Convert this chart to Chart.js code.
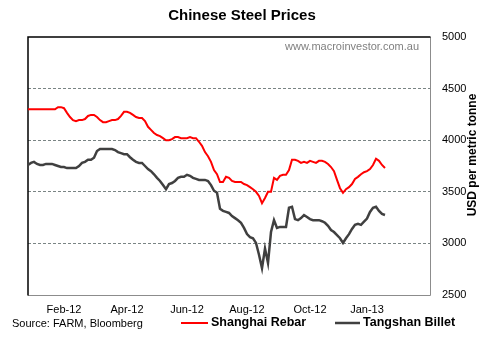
<!DOCTYPE html>
<html>
<head>
<meta charset="utf-8">
<style>
  html, body { margin: 0; padding: 0; background: #fff; }
  #wrap { width: 490px; height: 344px; }
</style>
<script src="https://cdn.jsdelivr.net/npm/chart.js"></script>
</head>
<body>
<div id="wrap"><canvas id="steelChart" width="490" height="344"></canvas></div>
<script>
// Values (USD per metric tonne), roughly one point every few trading days
const rebar = [
  4300, 4300, 4300, 4300, 4300, 4300, 4300, 4300, 4300, 4300,
  4320, 4320, 4310, 4265, 4225, 4195, 4185, 4195, 4195, 4205,
  4235, 4245, 4245, 4225, 4195, 4175, 4175, 4185, 4195, 4195,
  4205, 4235, 4275, 4275, 4265, 4245, 4225, 4215, 4215, 4185,
  4130, 4100, 4070, 4050, 4040, 4020, 4000, 4000, 4010, 4030,
  4030, 4020, 4020, 4020, 4030, 4020, 4020, 3985, 3945, 3885,
  3845, 3790, 3710, 3670, 3595, 3595, 3645, 3635, 3605, 3595,
  3595, 3595, 3575, 3565, 3545, 3525, 3500, 3460, 3390, 3440,
  3500, 3500, 3635, 3615, 3655, 3665, 3665, 3710, 3810, 3810,
  3800, 3780, 3790, 3780, 3800, 3790, 3780, 3800, 3800, 3790,
  3770, 3740, 3700, 3615, 3535, 3490, 3525, 3545, 3575, 3625,
  3645, 3670, 3690, 3700, 3720, 3760, 3820, 3800, 3760, 3730
];
const billet = [
  3760, 3780, 3790, 3770, 3760, 3760, 3770, 3770, 3770, 3760,
  3750, 3740, 3740, 3730, 3730, 3730, 3730, 3750, 3780, 3790,
  3810, 3810, 3830, 3895, 3915, 3915, 3915, 3915, 3915, 3905,
  3885, 3875, 3865, 3865, 3835, 3810, 3790, 3780, 3780, 3750,
  3720, 3700, 3670, 3635, 3605, 3565, 3525, 3575, 3585, 3605,
  3635, 3645, 3645, 3665, 3655, 3635, 3625, 3615, 3615, 3615,
  3605, 3565, 3510, 3490, 3335, 3315, 3305, 3295, 3265, 3245,
  3225, 3200, 3150, 3090, 3060, 3050, 3005, 2890, 2760, 2950,
  2810, 3110, 3225, 3150, 3160, 3160, 3160, 3345, 3355, 3235,
  3225, 3245, 3275, 3255, 3235, 3225, 3225, 3225, 3215, 3200,
  3170, 3130, 3110, 3080, 3050, 3005, 3050, 3090, 3140, 3180,
  3190, 3180, 3210, 3240, 3305, 3345, 3355, 3315, 3285, 3275
];
const seriesNames = ['Shanghai Rebar', 'Tangshan Billet'];
const seriesColors = ['#ff0000', '#404040'];

// x axis: 135 evenly spaced slots, only some carry a month label
const slotCount = 135;
const monthLabels = ['Feb-12', 'Apr-12', 'Jun-12', 'Aug-12', 'Oct-12', 'Jan-13'];
const monthSlots = [12, 33, 53, 73, 94, 113];

const yTicks = [2500, 3000, 3500, 4000, 4500, 5000];

const labels = [];
for (let i = 0; i < slotCount; i++) {
  const k = monthSlots.indexOf(i);
  labels.push(k >= 0 ? monthLabels[k] : '');
}

const FONT = "'Liberation Sans', Arial, sans-serif";

// title, borders, watermark, source note, legend and the axis title
const extras = {
  id: 'extras',
  beforeDatasetsDraw(chart) {
    const { ctx, chartArea: a } = chart;
    ctx.save();
    ctx.lineWidth = 1;
    ctx.strokeStyle = '#8c8c8c';
    ctx.beginPath();
    ctx.moveTo(a.right + 0.5, a.top);
    ctx.lineTo(a.right + 0.5, a.bottom + 0.5);
    ctx.lineTo(a.left, a.bottom + 0.5);
    ctx.stroke();
    ctx.strokeStyle = '#000';
    ctx.lineWidth = 1.5;
    ctx.beginPath();
    ctx.moveTo(a.left, a.bottom + 0.5);
    ctx.lineTo(a.left, a.top);
    ctx.lineTo(a.right + 0.5, a.top);
    ctx.stroke();

    ctx.fillStyle = '#808080';
    ctx.font = '11px ' + FONT;
    ctx.textAlign = 'right';
    ctx.textBaseline = 'middle';
    ctx.fillText('www.macroinvestor.com.au', 419, 47);
    ctx.restore();
  },
  afterDraw(chart) {
    const { ctx } = chart;
    ctx.save();
    ctx.fillStyle = '#000';
    ctx.textBaseline = 'middle';
    ctx.textAlign = 'center';
    ctx.font = 'bold 15px ' + FONT;
    ctx.fillText('Chinese Steel Prices', 242, 16);

    ctx.textAlign = 'left';
    ctx.font = '11px ' + FONT;
    ctx.fillText('Source: FARM, Bloomberg', 12, 324);

    // legend
    const items = [[181, 211], [335, 363]];
    chart.data.datasets.forEach((ds, i) => {
      ctx.strokeStyle = ds.borderColor;
      ctx.lineWidth = ds.borderWidth;
      ctx.beginPath();
      ctx.moveTo(items[i][0], 323);
      ctx.lineTo(items[i][1] - 3, 323);
      ctx.stroke();
      ctx.fillStyle = '#000';
      ctx.font = 'bold 12.5px ' + FONT;
      ctx.fillText(ds.label, items[i][1], 323);
    });

    // y axis title, reading bottom to top
    ctx.translate(473, 155);
    ctx.rotate(-Math.PI / 2);
    ctx.textAlign = 'center';
    ctx.font = 'bold 12px ' + FONT;
    ctx.fillText('USD per metric tonne', 0, 0);
    ctx.restore();
  }
};

new Chart(document.getElementById('steelChart'), {
  type: 'line',
  data: {
    labels: labels,
    datasets: [
      { label: seriesNames[0], data: rebar, borderColor: seriesColors[0], borderWidth: 2 },
      { label: seriesNames[1], data: billet, borderColor: seriesColors[1], borderWidth: 2.5 }
    ]
  },
  options: {
    responsive: false,
    animation: false,
    devicePixelRatio: 1,
    elements: { point: { radius: 0 }, line: { tension: 0 } },
    layout: { padding: { left: 28, right: 0, top: 37, bottom: 0 } },
    plugins: {
      legend: { display: false },
      tooltip: { enabled: false },
      title: { display: false }
    },
    scales: {
      x: {
        type: 'category',
        offset: false,
        grid: { display: false, drawTicks: false },
        border: { display: false },
        ticks: {
          autoSkip: false,
          maxRotation: 0,
          padding: 8,
          color: '#000',
          font: { family: FONT, size: 11 },
          callback: (v, i) => labels[i]
        },
        afterFit: s => { s.height = 49; }
      },
      y: {
        position: 'right',
        min: yTicks[0],
        max: yTicks[yTicks.length - 1],
        afterBuildTicks: s => { s.ticks = yTicks.map(v => ({ value: v })); },
        grid: {
          drawTicks: false,
          color: c => (c.tick && (c.tick.value === 2500 || c.tick.value === 5000)) ? 'rgba(0,0,0,0)' : '#7a8484',
          lineWidth: 1
        },
        border: { display: false, dash: [3, 2] },
        ticks: {
          padding: 12,
          color: '#000',
          font: { family: FONT, size: 11 },
          callback: v => String(v)
        },
        afterFit: s => { s.width = 60; }
      }
    }
  },
  plugins: [extras]
});
</script>
</body>
</html>
